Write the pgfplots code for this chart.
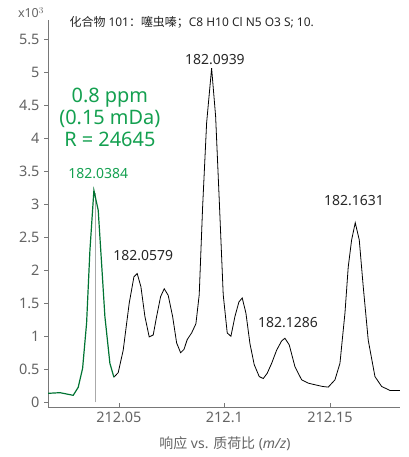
\documentclass[border=0pt]{standalone}
\usepackage{pgfplots}
\pgfplotsset{compat=1.18}
\usepackage{fontspec}
\setmainfont{Noto Sans}
\newfontfamily\cjk{Noto Sans CJK SC}
\definecolor{axgray}{RGB}{120,120,120}
\definecolor{lblgray}{RGB}{100,100,100}
\definecolor{txtgreen}{RGB}{20,160,80}
\definecolor{curvegreen}{RGB}{0,115,50}
\definecolor{peakgray}{RGB}{170,170,170}
\begin{document}
\begin{tikzpicture}[x=1bp,y=1bp]
\useasboundingbox (-48bp,-50bp) rectangle (361bp,407bp);
\begin{axis}[
  at={(0,0)}, anchor=south west,
  scale only axis, width=352bp, height=387bp,
  xmin=212.0164, xmax=212.1832, ymin=-0.071, ymax=5.79,
  axis x line*=bottom, axis y line*=left,
  axis line style={axgray, line width=0.8pt, -},
  xtick={212.05,212.1,212.15},
  xticklabels={212.05,212.1,212.15},
  ytick={0,0.5,...,5.5},
  yticklabels={0,0.5,1,1.5,2,2.5,3,3.5,4,4.5,5,5.5},
  x tick style={axgray, line width=0.8pt}, y tick style={axgray, line width=0.8pt},
  xtick align=inside, ytick align=outside,
  major tick length=4bp,
  tick label style={font=\fontsize{14.5}{16}\selectfont, text=lblgray},
  xticklabel style={yshift=-2bp},
  yticklabel style={xshift=-1bp},
  /pgf/number format/assume math mode=true,
  clip=false,
]
\addplot[peakgray, line width=1pt] coordinates {(212.0391,0) (212.0391,3.17)};
\addplot[black, line width=0.8pt] coordinates {
(212.04763,0.38) (212.04967,0.45) (212.05204,0.79) (212.05488,1.50) (212.05711,1.90) (212.05867,1.95)
(212.06043,1.75) (212.06232,1.30) (212.06436,0.99) (212.06626,1.02) (212.06787,1.30) (212.06976,1.60)
(212.07147,1.72) (212.07336,1.62) (212.07545,1.30) (212.07735,0.90) (212.07924,0.75) (212.08081,0.80)
(212.08237,0.95) (212.08445,1.05) (212.08649,1.19) (212.08806,1.63) (212.08967,2.96) (212.09156,4.23)
(212.09393,5.06) (212.09583,4.33) (212.09754,3.07) (212.09943,1.63) (212.10133,1.05) (212.10308,1.00)
(212.10498,1.30) (212.10687,1.52) (212.10844,1.58) (212.11019,1.35) (212.11209,0.89) (212.11412,0.57)
(212.11649,0.39) (212.11839,0.36) (212.12028,0.44) (212.12237,0.59) (212.12474,0.79) (212.12711,0.93)
(212.12867,0.97) (212.13071,0.87) (212.13341,0.54) (212.13659,0.34) (212.13972,0.29) (212.14370,0.26)
(212.14654,0.24) (212.14919,0.23) (212.15237,0.34) (212.15474,0.59) (212.15711,1.35) (212.15867,2.05)
(212.16028,2.46) (212.16199,2.72) (212.16389,2.46) (212.16578,1.75) (212.16815,0.94) (212.17133,0.39)
(212.17450,0.24) (212.17844,0.18) (212.18318,0.18)
};
\addplot[curvegreen, line width=1.2pt] coordinates {
(212.01649,0.136) (212.02204,0.146) (212.02521,0.126) (212.02834,0.106) (212.03071,0.227)
(212.03280,0.515) (212.03469,1.20) (212.03626,2.30) (212.03815,3.21) (212.04019,2.91)
(212.04180,2.10) (212.04336,1.30) (212.04573,0.59) (212.04763,0.38)
};
\node[txtgreen, font=\fontsize{14}{16}\selectfont] at (axis cs:212.04019,3.47) {182.0384};
\node[black!85, font=\fontsize{14}{16}\selectfont] at (axis cs:212.06152,2.217) {182.0579};
\node[black!85, font=\fontsize{14}{16}\selectfont] at (axis cs:212.0955,5.197) {182.0939};
\node[black!85, font=\fontsize{14}{16}\selectfont] at (axis cs:212.1301,1.212) {182.1286};
\node[black!85, font=\fontsize{14}{16}\selectfont] at (axis cs:212.1614,3.05) {182.1631};
\node[txtgreen, font=\fontsize{20}{22}\selectfont, align=center] at (axis cs:212.0457,4.32) {0.8 ppm\\(0.15 mDa)\\R = 24645};
\node[black!85, font=\fontsize{12}{14}\selectfont] at (axis cs:212.0845,5.76) {{\cjk 化合物} 101{\cjk ：噻虫嗪；}C8 H10 Cl N5 O3 S; 10.};
\end{axis}
\node[lblgray, font=\fontsize{12.5}{14}\selectfont] at (-17bp,394bp) {x10$^{3}$};
\node[lblgray, font=\fontsize{14}{16}\selectfont] at (177bp,-37bp) {{\cjk 响应} vs. {\cjk 质荷比} (\textit{m/z})};
\end{tikzpicture}
\end{document}
